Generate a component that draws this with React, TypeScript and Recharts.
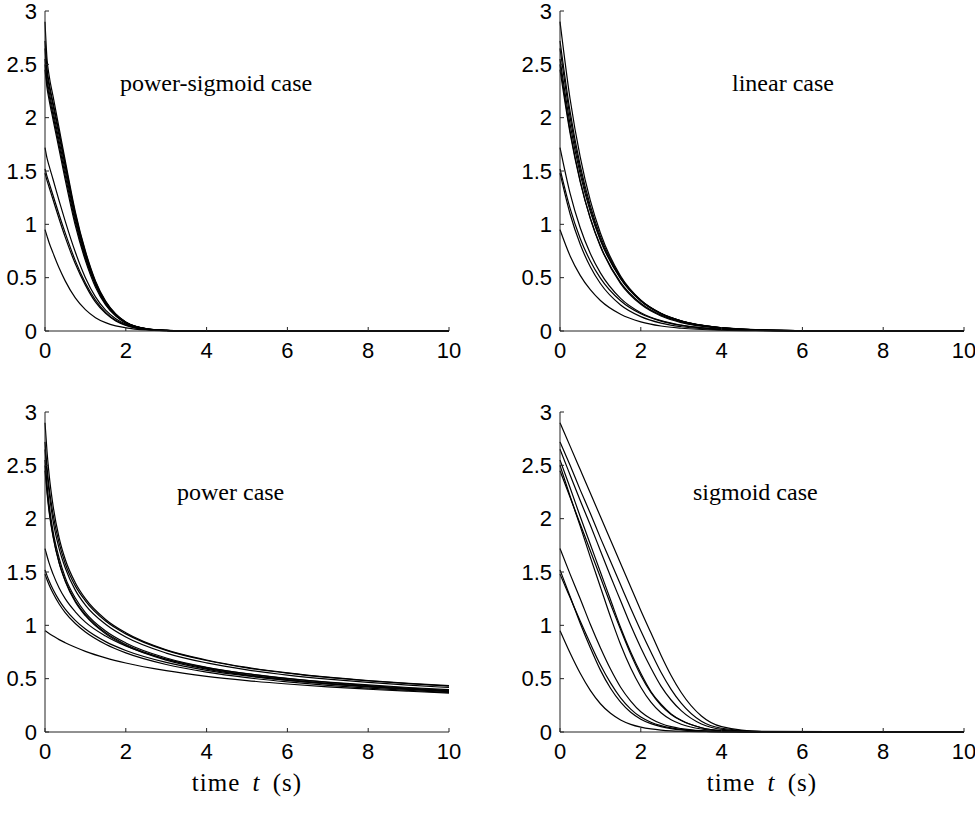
import React from "react";
import { LineChart, Line, XAxis, YAxis } from "recharts";

// ---------- data ----------
const xTicks = [0, 2, 4, 6, 8, 10];
const yTicks = [0, 0.5, 1, 1.5, 2, 2.5, 3];

// power-sigmoid case
const tPowerSigmoid = [0, 0.05, 0.1, 0.2, 0.35, 0.5, 0.75, 1, 1.25, 1.5, 1.75, 2, 2.5, 3, 3.5, 4, 10];
const powerSigmoidSeries = [
  [0.95, 0.89, 0.83, 0.73, 0.59, 0.47, 0.31, 0.2, 0.125, 0.078, 0.048, 0.03, 0.01, 0.003, 0.0008, 0.0002, 0],
  [1.48, 1.41, 1.35, 1.23, 1.05, 0.88, 0.63, 0.43, 0.27, 0.165, 0.095, 0.053, 0.014, 0.0037, 0.001, 0.0002, 0],
  [1.52, 1.45, 1.39, 1.27, 1.09, 0.92, 0.66, 0.45, 0.29, 0.175, 0.1, 0.057, 0.015, 0.004, 0.001, 0.0003, 0],
  [1.72, 1.62, 1.55, 1.42, 1.22, 1.03, 0.74, 0.5, 0.32, 0.195, 0.115, 0.064, 0.017, 0.0045, 0.0011, 0.0003, 0],
  [2.45, 2.28, 2.17, 1.98, 1.7, 1.42, 0.99, 0.66, 0.41, 0.245, 0.14, 0.074, 0.019, 0.005, 0.0013, 0.0003, 0],
  [2.5, 2.32, 2.21, 2.02, 1.74, 1.46, 1.02, 0.68, 0.43, 0.255, 0.146, 0.077, 0.02, 0.005, 0.0013, 0.0003, 0],
  [2.55, 2.36, 2.25, 2.06, 1.78, 1.5, 1.05, 0.7, 0.44, 0.26, 0.15, 0.079, 0.021, 0.0055, 0.0014, 0.0004, 0],
  [2.65, 2.42, 2.3, 2.11, 1.83, 1.54, 1.08, 0.72, 0.45, 0.27, 0.153, 0.081, 0.021, 0.0055, 0.0014, 0.0004, 0],
  [2.72, 2.46, 2.33, 2.14, 1.86, 1.57, 1.1, 0.74, 0.46, 0.275, 0.157, 0.083, 0.022, 0.006, 0.0015, 0.0004, 0],
  [2.9, 2.55, 2.4, 2.2, 1.9, 1.6, 1.12, 0.75, 0.47, 0.28, 0.16, 0.085, 0.022, 0.006, 0.0015, 0.0004, 0],
];

// linear case
const tLinear = [0, 0.25, 0.5, 0.75, 1, 1.5, 2, 2.5, 3, 4, 5, 6, 7, 8, 10];
const linearSeries = [
  [0.95, 0.704, 0.522, 0.387, 0.286, 0.157, 0.086, 0.047, 0.026, 0.0078, 0.0024, 0.0007, 0.0002, 0.0001, 0],
  [1.48, 1.097, 0.813, 0.602, 0.445, 0.244, 0.135, 0.074, 0.04, 0.012, 0.0037, 0.001, 0.0003, 0.0001, 0],
  [1.52, 1.149, 0.868, 0.657, 0.496, 0.283, 0.161, 0.093, 0.053, 0.017, 0.0056, 0.0018, 0.0006, 0.0002, 0],
  [1.72, 1.29, 0.968, 0.726, 0.545, 0.306, 0.172, 0.097, 0.055, 0.017, 0.0055, 0.0017, 0.0005, 0.0002, 0],
  [2.45, 1.852, 1.399, 1.058, 0.799, 0.456, 0.26, 0.149, 0.086, 0.028, 0.009, 0.003, 0.001, 0.0003, 0],
  [2.5, 1.875, 1.408, 1.055, 0.793, 0.445, 0.25, 0.141, 0.079, 0.025, 0.008, 0.0025, 0.0008, 0.0003, 0],
  [2.55, 1.938, 1.471, 1.119, 0.849, 0.49, 0.283, 0.163, 0.094, 0.031, 0.0105, 0.0036, 0.0012, 0.0004, 0],
  [2.65, 2.003, 1.513, 1.145, 0.864, 0.493, 0.281, 0.162, 0.093, 0.03, 0.0098, 0.0032, 0.001, 0.0003, 0],
  [2.72, 2.056, 1.553, 1.175, 0.887, 0.506, 0.288, 0.166, 0.095, 0.031, 0.01, 0.0033, 0.0011, 0.0003, 0],
  [2.9, 2.175, 1.633, 1.224, 0.919, 0.516, 0.29, 0.164, 0.092, 0.029, 0.0093, 0.003, 0.0009, 0.0003, 0],
];

// power case
const tPower = [0, 0.05, 0.1, 0.2, 0.35, 0.5, 0.75, 1, 1.5, 2, 3, 4, 5, 6, 7, 8, 9, 10];
const powerSeries = [
  [0.95, 0.937, 0.924, 0.9, 0.866, 0.837, 0.794, 0.756, 0.695, 0.647, 0.575, 0.522, 0.482, 0.45, 0.423, 0.401, 0.382, 0.365],
  [1.48, 1.428, 1.381, 1.3, 1.2, 1.12, 1.017, 0.938, 0.823, 0.742, 0.633, 0.561, 0.509, 0.47, 0.438, 0.412, 0.39, 0.371],
  [1.52, 1.466, 1.418, 1.335, 1.234, 1.152, 1.047, 0.965, 0.847, 0.764, 0.652, 0.578, 0.525, 0.484, 0.451, 0.424, 0.402, 0.383],
  [1.72, 1.65, 1.585, 1.48, 1.35, 1.25, 1.127, 1.03, 0.9, 0.806, 0.684, 0.604, 0.547, 0.504, 0.469, 0.441, 0.417, 0.397],
  [2.45, 2.24, 2.07, 1.83, 1.585, 1.42, 1.23, 1.1, 0.93, 0.82, 0.682, 0.597, 0.537, 0.492, 0.457, 0.428, 0.405, 0.384],
  [2.5, 2.27, 2.09, 1.84, 1.585, 1.414, 1.22, 1.09, 0.92, 0.811, 0.674, 0.589, 0.53, 0.486, 0.451, 0.423, 0.399, 0.379],
  [2.55, 2.32, 2.14, 1.88, 1.63, 1.45, 1.256, 1.12, 0.947, 0.835, 0.694, 0.607, 0.546, 0.5, 0.465, 0.435, 0.411, 0.391],
  [2.65, 2.43, 2.25, 1.98, 1.72, 1.54, 1.33, 1.19, 1.01, 0.89, 0.74, 0.648, 0.583, 0.534, 0.496, 0.465, 0.439, 0.417],
  [2.72, 2.48, 2.3, 2.04, 1.77, 1.58, 1.37, 1.23, 1.04, 0.92, 0.765, 0.67, 0.602, 0.552, 0.512, 0.48, 0.453, 0.431],
  [2.9, 2.63, 2.42, 2.12, 1.82, 1.62, 1.4, 1.25, 1.055, 0.93, 0.77, 0.675, 0.605, 0.555, 0.515, 0.483, 0.456, 0.434],
];

// sigmoid case
const tSigmoid = [0, 0.25, 0.5, 0.75, 1, 1.25, 1.5, 1.75, 2, 2.25, 2.5, 2.75, 3, 3.5, 4, 5, 10];
const sigmoidSeries = [
  [0.95, 0.74, 0.55, 0.39, 0.265, 0.175, 0.113, 0.072, 0.046, 0.029, 0.018, 0.011, 0.007, 0.003, 0.001, 0, 0],
  [1.48, 1.26, 1.04, 0.83, 0.63, 0.46, 0.32, 0.215, 0.14, 0.092, 0.06, 0.038, 0.024, 0.009, 0.003, 0.0003, 0],
  [1.52, 1.27, 1.02, 0.79, 0.58, 0.41, 0.28, 0.185, 0.12, 0.078, 0.05, 0.032, 0.02, 0.008, 0.003, 0.0003, 0],
  [1.72, 1.48, 1.25, 1.01, 0.79, 0.59, 0.42, 0.29, 0.19, 0.125, 0.08, 0.05, 0.032, 0.012, 0.004, 0.0005, 0],
  [2.45, 2.2, 1.95, 1.7, 1.45, 1.2, 0.96, 0.73, 0.53, 0.37, 0.25, 0.165, 0.107, 0.04, 0.014, 0.0015, 0],
  [2.5, 2.21, 1.93, 1.64, 1.36, 1.08, 0.82, 0.6, 0.42, 0.28, 0.18, 0.115, 0.073, 0.028, 0.01, 0.001, 0],
  [2.55, 2.29, 2.02, 1.76, 1.5, 1.24, 0.98, 0.75, 0.55, 0.38, 0.26, 0.17, 0.11, 0.04, 0.013, 0.001, 0],
  [2.65, 2.41, 2.17, 1.94, 1.7, 1.46, 1.23, 1.0, 0.79, 0.6, 0.43, 0.3, 0.2, 0.075, 0.025, 0.003, 0],
  [2.72, 2.5, 2.27, 2.05, 1.82, 1.6, 1.38, 1.16, 0.95, 0.75, 0.56, 0.4, 0.27, 0.1, 0.035, 0.004, 0],
  [2.9, 2.68, 2.46, 2.24, 2.02, 1.8, 1.58, 1.36, 1.14, 0.93, 0.72, 0.53, 0.37, 0.15, 0.05, 0.005, 0],
];

const panelTitles = ["power-sigmoid case", "linear case", "power case", "sigmoid case"];
const xAxisTitle = { pre: "time ", italic: "t", post: " (s)" };

// ---------- helpers ----------
function buildRows(ts: number[], series: number[][]) {
  return ts.map((t, i) => {
    const row: Record<string, number> = { t };
    series.forEach((s, k) => {
      row["s" + k] = s[i];
    });
    return row;
  });
}

const AXIS_COLOR = "#222";
const tickStyle = { fill: "#000", fontSize: 22, fontFamily: "Liberation Sans, Arial, sans-serif" };

function Panel(props: { left: number; top: number; width: number; rightMargin: number; ts: number[]; series: number[][] }) {
  const { left, top, width, rightMargin, ts, series } = props;
  const rows = buildRows(ts, series);
  return (
    <div style={{ position: "absolute", left, top }}>
      <LineChart width={width} height={370} data={rows} margin={{ top: 11, right: rightMargin, bottom: 0, left: 0 }}>
        <XAxis
          dataKey="t"
          type="number"
          domain={[0, 10]}
          ticks={xTicks}
          interval={0}
          height={39}
          tickSize={-4}
          tickMargin={15}
          axisLine={{ stroke: AXIS_COLOR, strokeWidth: 1 }}
          tickLine={{ stroke: AXIS_COLOR, strokeWidth: 1 }}
          tick={tickStyle}
        />
        <YAxis
          type="number"
          domain={[0, 3]}
          ticks={yTicks}
          interval={0}
          width={45}
          tickSize={-4}
          tickMargin={12}
          axisLine={{ stroke: AXIS_COLOR, strokeWidth: 1 }}
          tickLine={{ stroke: AXIS_COLOR, strokeWidth: 1 }}
          tick={tickStyle}
        />
        {series.map((_, k) => (
          <Line
            key={k}
            dataKey={"s" + k}
            type="monotone"
            stroke="#000"
            strokeWidth={1.2}
            dot={false}
            activeDot={false}
            isAnimationActive={false}
          />
        ))}
      </LineChart>
    </div>
  );
}

const serif = "'Liberation Serif', 'Times New Roman', serif";

function Title(props: { x: number; y: number; text: string }) {
  return (
    <div
      style={{
        position: "absolute",
        left: props.x,
        top: props.y,
        fontFamily: serif,
        fontSize: 24,
        lineHeight: "24px",
        color: "#000",
        whiteSpace: "nowrap",
      }}
    >
      {props.text}
    </div>
  );
}

function AxisTitle(props: { cx: number; y: number }) {
  return (
    <div
      style={{
        position: "absolute",
        left: props.cx - 100,
        width: 200,
        top: props.y,
        textAlign: "center",
        fontFamily: serif,
        fontSize: 25,
        lineHeight: "25px",
        letterSpacing: 1,
        wordSpacing: 5,
        color: "#000",
        whiteSpace: "nowrap",
      }}
    >
      {xAxisTitle.pre}
      <i>{xAxisTitle.italic}</i>
      {xAxisTitle.post}
    </div>
  );
}

export default function App() {
  return (
    <div style={{ position: "absolute", left: 0, top: 0, width: 977, height: 814, background: "#fff", overflow: "hidden" }}>
      <Panel left={0} top={0} width={470} rightMargin={21} ts={tPowerSigmoid} series={powerSigmoidSeries} />
      <Panel left={515} top={0} width={460} rightMargin={11} ts={tLinear} series={linearSeries} />
      <Panel left={0} top={401} width={470} rightMargin={21} ts={tPower} series={powerSeries} />
      <Panel left={515} top={401} width={460} rightMargin={11} ts={tSigmoid} series={sigmoidSeries} />
      <Title x={120} y={71} text={panelTitles[0]} />
      <Title x={732} y={71} text={panelTitles[1]} />
      <Title x={177} y={480} text={panelTitles[2]} />
      <Title x={693} y={480} text={panelTitles[3]} />
      <AxisTitle cx={247} y={770} />
      <AxisTitle cx={762} y={770} />
    </div>
  );
}
